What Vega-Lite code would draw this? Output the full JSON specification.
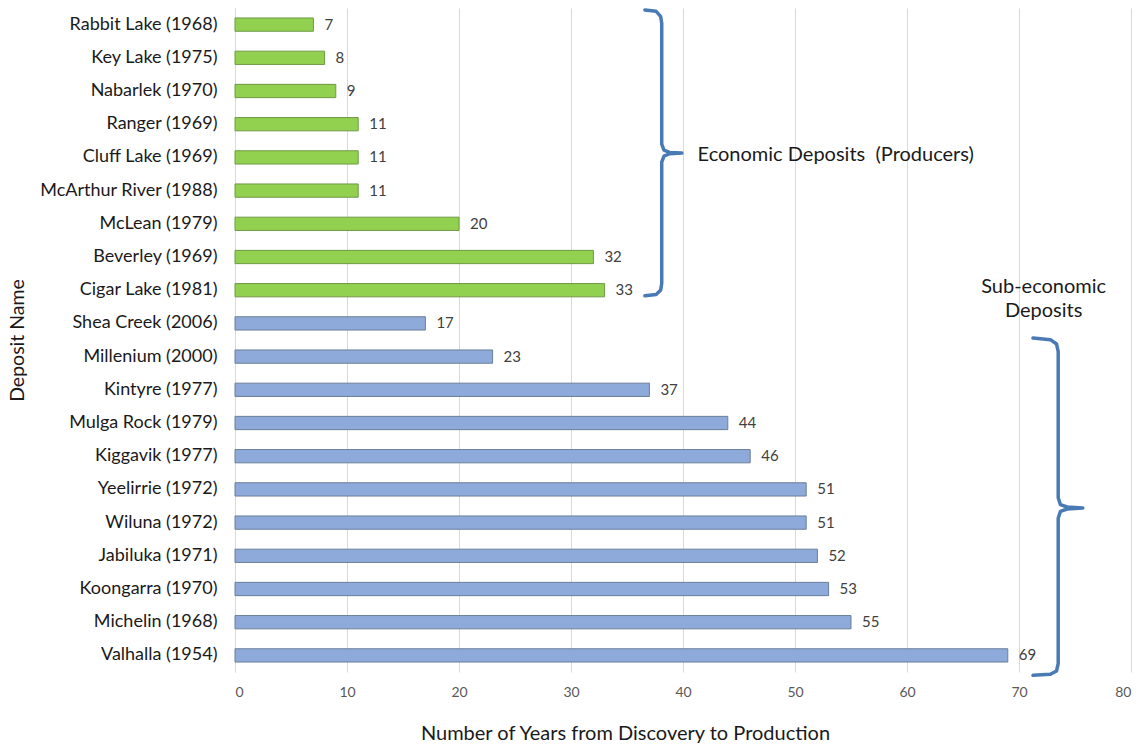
{
  "$schema": "https://vega.github.io/schema/vega-lite/v6.json",
  "width": 896,
  "height": 664,
  "autosize": {"type": "none"},
  "padding": {"left": 235, "top": 8, "right": 16, "bottom": 74},
  "background": "white",
  "config": {
    "font": "Lato",
    "view": {"stroke": null}
  },
  "datasets": {
    "deposits": [
      {"name": "Rabbit Lake (1968)", "years": 7, "group": "Economic"},
      {"name": "Key Lake (1975)", "years": 8, "group": "Economic"},
      {"name": "Nabarlek (1970)", "years": 9, "group": "Economic"},
      {"name": "Ranger (1969)", "years": 11, "group": "Economic"},
      {"name": "Cluff Lake (1969)", "years": 11, "group": "Economic"},
      {"name": "McArthur River (1988)", "years": 11, "group": "Economic"},
      {"name": "McLean (1979)", "years": 20, "group": "Economic"},
      {"name": "Beverley (1969)", "years": 32, "group": "Economic"},
      {"name": "Cigar Lake (1981)", "years": 33, "group": "Economic"},
      {"name": "Shea Creek (2006)", "years": 17, "group": "Sub-economic"},
      {"name": "Millenium (2000)", "years": 23, "group": "Sub-economic"},
      {"name": "Kintyre (1977)", "years": 37, "group": "Sub-economic"},
      {"name": "Mulga Rock (1979)", "years": 44, "group": "Sub-economic"},
      {"name": "Kiggavik (1977)", "years": 46, "group": "Sub-economic"},
      {"name": "Yeelirrie (1972)", "years": 51, "group": "Sub-economic"},
      {"name": "Wiluna (1972)", "years": 51, "group": "Sub-economic"},
      {"name": "Jabiluka (1971)", "years": 52, "group": "Sub-economic"},
      {"name": "Koongarra (1970)", "years": 53, "group": "Sub-economic"},
      {"name": "Michelin (1968)", "years": 55, "group": "Sub-economic"},
      {"name": "Valhalla (1954)", "years": 69, "group": "Sub-economic"}
    ],
    "braces": [
      {"brace": "econ", "o": 1, "x": 36.6, "row": 0.06},
      {"brace": "econ", "o": 2, "x": 37.6, "row": 0.1},
      {"brace": "econ", "o": 3, "x": 38.0, "row": 0.25},
      {"brace": "econ", "o": 4, "x": 38.1, "row": 0.45},
      {"brace": "econ", "o": 5, "x": 38.1, "row": 4.1},
      {"brace": "econ", "o": 6, "x": 38.3, "row": 4.28},
      {"brace": "econ", "o": 7, "x": 38.8, "row": 4.35},
      {"brace": "econ", "o": 8, "x": 39.9, "row": 4.37},
      {"brace": "econ", "o": 9, "x": 38.8, "row": 4.39},
      {"brace": "econ", "o": 10, "x": 38.3, "row": 4.46},
      {"brace": "econ", "o": 11, "x": 38.1, "row": 4.64},
      {"brace": "econ", "o": 12, "x": 38.1, "row": 8.3},
      {"brace": "econ", "o": 13, "x": 38.0, "row": 8.5},
      {"brace": "econ", "o": 14, "x": 37.6, "row": 8.63},
      {"brace": "econ", "o": 15, "x": 36.6, "row": 8.67},
      {"brace": "sub", "o": 1, "x": 71.25, "row": 9.94},
      {"brace": "sub", "o": 2, "x": 72.8, "row": 9.99},
      {"brace": "sub", "o": 3, "x": 73.35, "row": 10.12},
      {"brace": "sub", "o": 4, "x": 73.5, "row": 10.35},
      {"brace": "sub", "o": 5, "x": 73.5, "row": 14.75},
      {"brace": "sub", "o": 6, "x": 73.7, "row": 14.96},
      {"brace": "sub", "o": 7, "x": 74.3, "row": 15.03},
      {"brace": "sub", "o": 8, "x": 75.7, "row": 15.06},
      {"brace": "sub", "o": 9, "x": 74.3, "row": 15.09},
      {"brace": "sub", "o": 10, "x": 73.7, "row": 15.16},
      {"brace": "sub", "o": 11, "x": 73.5, "row": 15.37},
      {"brace": "sub", "o": 12, "x": 73.5, "row": 19.75},
      {"brace": "sub", "o": 13, "x": 73.35, "row": 19.97},
      {"brace": "sub", "o": 14, "x": 72.8, "row": 20.07},
      {"brace": "sub", "o": 15, "x": 71.25, "row": 20.1}
    ],
    "econNote": [
      {"text": "Economic Deposits\u00a0 (Producers)", "x": 41.3, "row": 4.43}
    ],
    "subNote": [
      {"text": "Sub-economic", "x": 72.2, "row": 8.4},
      {"text": "Deposits", "x": 72.2, "row": 9.12}
    ]
  },
  "layer": [
    {
      "data": {"name": "deposits"},
      "layer": [
        {
          "mark": {"type": "bar", "strokeWidth": 1},
          "encoding": {
            "y": {
              "field": "name",
              "type": "nominal",
              "sort": null,
              "scale": {"paddingInner": 0.6, "paddingOuter": 0.3},
              "axis": {
                "title": "Deposit Name",
                "titleFont": "Lato",
                "titleFontSize": 19.5,
                "titleFontWeight": "normal",
                "titleColor": "#1a1a1a",
                "titleX": -208,
                "titleY": 332,
                "labelFont": "Lato",
                "labelFontSize": 18,
                "labelColor": "#1a1a1a",
                "labelPadding": 18,
                "ticks": false,
                "domain": true,
                "domainColor": "#d9d9d9",
                "domainWidth": 1
              }
            },
            "x": {
              "field": "years",
              "type": "quantitative",
              "scale": {"domain": [0, 80], "nice": false},
              "axis": {
                "title": "Number of Years from Discovery to Production",
                "titleFont": "Lato",
                "titleFontSize": 20,
                "titleFontWeight": "normal",
                "titleColor": "#1a1a1a",
                "titleX": 390,
                "titleY": 61,
                "titleBaseline": "middle",
                "values": [0, 10, 20, 30, 40, 50, 60, 70, 80],
                "labelFont": "Lato",
                "labelFontSize": 14,
                "labelColor": "#595959",
                "labelPadding": 13,
                "ticks": false,
                "domain": false,
                "grid": true,
                "gridColor": "#d9d9d9",
                "gridWidth": 1
              }
            },
            "color": {
              "field": "group",
              "type": "nominal",
              "scale": {"domain": ["Economic", "Sub-economic"], "range": ["#92d050", "#8eaadb"]},
              "legend": null
            },
            "stroke": {
              "field": "group",
              "type": "nominal",
              "scale": {"domain": ["Economic", "Sub-economic"], "range": ["#6f9a45", "#6b7f99"]},
              "legend": null
            }
          }
        },
        {
          "mark": {"type": "text", "align": "left", "baseline": "middle", "dx": 11, "fontSize": 15, "font": "Lato", "color": "#404040"},
          "encoding": {
            "y": {"field": "name", "type": "nominal", "sort": null},
            "x": {"field": "years", "type": "quantitative"},
            "text": {"field": "years", "type": "quantitative"}
          }
        }
      ]
    },
    {
      "data": {"name": "braces"},
      "mark": {"type": "line", "color": "#4a7ab4", "strokeWidth": 3.5, "strokeCap": "round", "strokeJoin": "round"},
      "encoding": {
        "x": {"field": "x", "type": "quantitative"},
        "y": {"field": "row", "type": "quantitative", "scale": {"domain": [0, 20], "reverse": true, "nice": false, "zero": false}, "axis": null},
        "detail": {"field": "brace"},
        "order": {"field": "o", "type": "quantitative"}
      }
    },
    {
      "data": {"name": "econNote"},
      "mark": {"type": "text", "align": "left", "baseline": "middle", "fontSize": 20, "font": "Lato", "color": "#1a1a1a"},
      "encoding": {
        "x": {"field": "x", "type": "quantitative"},
        "y": {"field": "row", "type": "quantitative", "scale": {"domain": [0, 20], "reverse": true, "nice": false, "zero": false}, "axis": null},
        "text": {"field": "text"}
      }
    },
    {
      "data": {"name": "subNote"},
      "mark": {"type": "text", "align": "center", "baseline": "middle", "fontSize": 20, "font": "Lato", "color": "#1a1a1a"},
      "encoding": {
        "x": {"field": "x", "type": "quantitative"},
        "y": {"field": "row", "type": "quantitative", "scale": {"domain": [0, 20], "reverse": true, "nice": false, "zero": false}, "axis": null},
        "text": {"field": "text"}
      }
    }
  ],
  "resolve": {"scale": {"y": "independent"}, "axis": {"y": "independent"}}
}
